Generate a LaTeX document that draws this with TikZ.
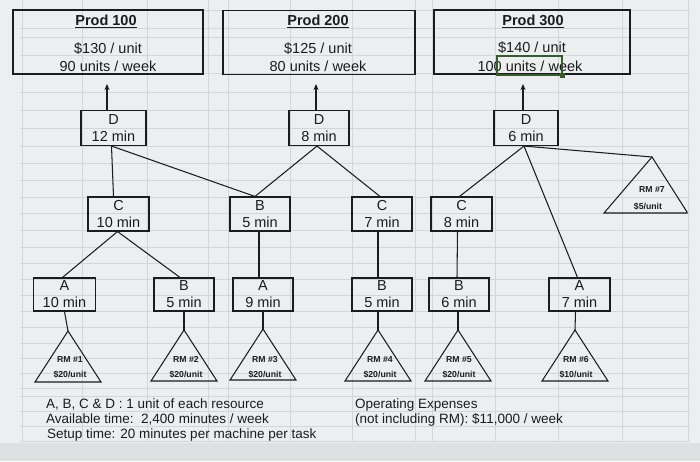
\documentclass[tikz,border=0pt]{standalone}
\usepackage{fontspec}
\setmainfont{Liberation Sans}
\usetikzlibrary{arrows.meta,calc}
\definecolor{bgc}{RGB}{236,238,240}
\definecolor{gridc}{RGB}{210,214,218}
\definecolor{ink}{RGB}{28,28,30}
\definecolor{selg}{RGB}{52,92,44}
\definecolor{lowc}{RGB}{222,224,226}
\begin{document}
\begin{tikzpicture}[x=1pt,y=-1pt,
  opbox/.style={draw=ink, line width=1.1pt, inner sep=0pt, align=center, text=ink,
    font=\fontsize{14.5}{17}\selectfont, minimum height=35pt},
  prodbox/.style={draw=ink, line width=1.2pt, minimum height=64pt, inner sep=0pt},
  txt/.style={text=ink, inner sep=0pt, anchor=base, font=\fontsize{14.5}{17}\selectfont},
  note/.style={text=ink, inner sep=0pt, anchor=base west, font=\fontsize{13.5}{15}\selectfont},
  rmtxt/.style={text=ink, inner sep=0pt, anchor=base, font=\bfseries\fontsize{8.7}{10}\selectfont},
  link/.style={draw=ink, line width=1.05pt},
  arr/.style={draw=ink, line width=1.05pt, -{Stealth[length=6pt,width=5pt]}},
  tri/.style={draw=ink, line width=1.05pt, line join=miter},
  gridline/.style={draw=gridc, line width=0.6pt}]

\useasboundingbox (0,0) rectangle (700,461);
\fill[bgc] (0,0) rectangle (700,461);
\fill[lowc] (0,443) rectangle (700,461);
% spreadsheet grid
\foreach \gy in {10,28,37,55,73,92,110,128,146,163,180,197,213,230,247,263,279,295,311,327,343,358,373,388,396,411,426,441}
  \draw[gridline] (20,\gy) -- (690,\gy);
\foreach \gx in {22,82,147,208,228,290,352,415,432,495,558,622,688}
  \draw[gridline] (\gx,0) -- (\gx,441);

% product boxes
\node[prodbox, minimum width=190pt] (p1) at (108,42) {};
\node[prodbox, minimum width=192pt] (p2) at (319,42.5) {};
\node[prodbox, minimum width=196pt] (p3) at (532,42) {};
\node[txt] (p1t) at (106,25.5) {\underline{\textbf{Prod 100}}};
\node[txt] (p1a) at (108,53.5) {\$130 / unit};
\node[txt] (p1b) at (108,71.5) {90 units / week};
\node[txt] (p2t) at (318,25.5) {\underline{\textbf{Prod 200}}};
\node[txt] (p2a) at (318,53.5) {\$125 / unit};
\node[txt] (p2b) at (318,71.5) {80 units / week};
\node[txt] (p3t) at (533,25.5) {\underline{\textbf{Prod 300}}};
\node[txt] (p3a) at (532,52) {\$140 / unit};
\node[txt] (p3b) at (530,71.5) {100 units / week};
% selection cursor
\draw[selg, line width=1.3pt] (497,56) rectangle (562,75);
\fill[selg] (559.5,72.5) rectangle (564.5,77.5);

% operation boxes
\node[opbox, minimum width=65pt] (d1) at (113.5,128) {D\\12 min};
\node[opbox, minimum width=60pt] (d2) at (319,128) {D\\8 min};
\node[opbox, minimum width=64pt] (d3) at (526,128) {D\\6 min};
\node[opbox, minimum width=61pt, minimum height=34pt] (c1) at (118.5,214) {C\\10 min};
\node[opbox, minimum width=60pt, minimum height=34pt] (b1) at (260,214) {B\\5 min};
\node[opbox, minimum width=60pt, minimum height=34pt] (c2) at (382,214) {C\\7 min};
\node[opbox, minimum width=61pt, minimum height=34pt] (c3) at (461.5,214) {C\\8 min};
\node[opbox, minimum width=62pt, minimum height=33pt] (a1) at (64.5,294.5) {A\\10 min};
\node[opbox, minimum width=60pt, minimum height=33pt] (b2) at (184,294.5) {B\\5 min};
\node[opbox, minimum width=60pt, minimum height=33pt] (a3) at (263,294.5) {A\\9 min};
\node[opbox, minimum width=60pt, minimum height=33pt] (b4) at (382,294.5) {B\\5 min};
\node[opbox, minimum width=60pt, minimum height=33pt] (b5) at (459,294.5) {B\\6 min};
\node[opbox, minimum width=61pt, minimum height=33pt] (a6) at (579.5,294.5) {A\\7 min};

% arrows to products
\coordinate (p1arr) at (107,84);
\coordinate (p2arr) at (316,84);
\coordinate (p3arr) at (523,84);
\draw[arr] (d1.north -| p1arr) -- (p1arr);
\draw[arr] (d2.north -| p2arr) -- (p2arr);
\draw[arr] (d3.north -| p3arr) -- (p3arr);

% raw material triangles (apex coordinates)
\coordinate (rm1) at (68,331);
\coordinate (rm2) at (184,330);
\coordinate (rm3) at (263,329);
\coordinate (rm4) at (378,330);
\coordinate (rm5) at (458,330);
\coordinate (rm6) at (575,330);
\coordinate (rm7) at (652,157);
\foreach \r in {rm1,rm2,rm3,rm4,rm5,rm6}
  \draw[tri] (\r) -- ++(33,51) -- ++(-66,0) -- cycle;
\draw[tri] (rm7) -- (687,212) -- (687,213) -- (604,213) -- cycle;

\node[rmtxt] (rm1a) at (70,362) {RM \#1};
\node[rmtxt] (rm1b) at (70,377) {\$20/unit};
\node[rmtxt] (rm2a) at (186,362) {RM \#2};
\node[rmtxt] (rm2b) at (186,377) {\$20/unit};
\node[rmtxt] (rm3a) at (265,362) {RM \#3};
\node[rmtxt] (rm3b) at (265,377) {\$20/unit};
\node[rmtxt] (rm4a) at (380,362) {RM \#4};
\node[rmtxt] (rm4b) at (380,377) {\$20/unit};
\node[rmtxt] (rm5a) at (459,362) {RM \#5};
\node[rmtxt] (rm5b) at (459,377) {\$20/unit};
\node[rmtxt] (rm6a) at (576,362) {RM \#6};
\node[rmtxt] (rm6b) at (576,377) {\$10/unit};
\node[rmtxt] (rm7a) at (652,192) {RM \#7};
\node[rmtxt] (rm7b) at (648,209) {\$5/unit};

% connectors
\draw[link] ($(d1.south)+(-2,0)$) -- ($(c1.north)+(-5,0)$);
\draw[link] ($(d1.south)+(-2,0)$) -- ($(b1.north)+(-5,0)$);
\draw[link] ($(d2.south)+(-2,0)$) -- ($(b1.north)+(-5,0)$);
\draw[link] ($(d2.south)+(-2,0)$) -- ($(c2.north)+(-2,0)$);
\draw[link] ($(d3.south)+(-2,0)$) -- ($(c3.north)+(-2,0)$);
\draw[link] ($(d3.south)+(-2,0)$) -- ($(a6.north)+(-2,0)$);
\draw[link] ($(d3.south)+(-2,0)$) -- (rm7);
\draw[link] ($(c1.south)+(-1,0)$) -- ($(a1.north)+(-2,0)$);
\draw[link] ($(c1.south)+(-1,0)$) -- ($(b2.north)+(-4,0)$);
\draw[link] ($(b1.south)+(-1,0)$) -- ($(a3.north)+(-4,0)$);
\draw[link] ($(c2.south)+(-4,0)$) -- ($(b4.north)+(-4,0)$);
\draw[link] ($(c3.south)+(-4,0)$) -- ($(b5.north)+(-2,0)$);
\draw[link] (a1.south) -- (rm1);
\draw[link] (b2.south) -- (rm2);
\draw[link] (a3.south) -- (rm3);
\draw[link] ($(b4.south)+(-4,0)$) -- (rm4);
\draw[link] ($(b5.south)+(-1,0)$) -- (rm5);
\draw[link] ($(a6.south)+(-4,0)$) -- (rm6);

% notes
\node[note] (n1) at (46,408) {A, B, C \& D : 1 unit of each resource};
\node[note] (n2) at (46,423) {Available time:\ \ 2,400 minutes / week};
\node[note] (n3) at (47,438) {Setup time: 20 minutes per machine per task};
\node[note] (n4) at (355,408) {Operating Expenses};
\node[note] (n5) at (355,423) {(not including RM): \$11,000 / week};
\end{tikzpicture}
\end{document}
